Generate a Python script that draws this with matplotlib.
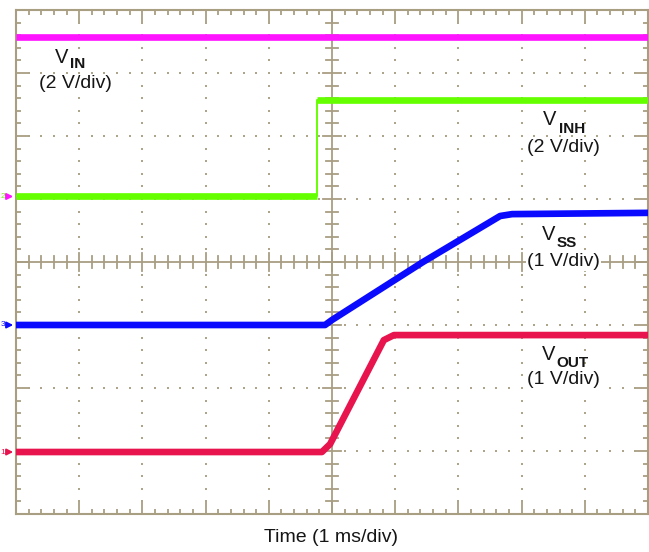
import numpy as np
import matplotlib
matplotlib.use("Agg")
import matplotlib.pyplot as plt

plt.rcParams['font.family'] = ['Liberation Sans', 'DejaVu Sans']

W, H = 649, 552
# ---- data (x in time divisions 0..10, y in screen divisions 0..8) ----
vin_x = [0.0, 10.0]
vin_y = [7.57, 7.57]

vinh_x = [0.0, 4.76, 4.76, 10.0]
vinh_y = [5.04, 5.04, 6.57, 6.57]

vss_x = [0.0, 4.89, 5.0, 6.44, 7.66, 7.85, 10.0]
vss_y = [3.0, 3.0, 3.08, 4.0, 4.73, 4.76, 4.78]

vout_x = [0.0, 4.84, 4.97, 5.82, 5.98, 10.0]
vout_y = [0.984, 0.984, 1.11, 2.76, 2.84, 2.84]

markers_y = [5.04, 3.0, 0.984]
markers_lbl = ['2', '3', '1']

labels = ['IN', 'INH', 'SS', 'OUT']
scales = ['(2 V/div)', '(2 V/div)', '(1 V/div)', '(1 V/div)']
xlabel = 'Time (1 ms/div)'

# ---- styling ----
tan = '#A89E82'
dot = '#ADA48A'
c_vin = '#FF14FF'
c_vinh = '#66FF00'
c_vss = '#0A0AFF'
c_vout = '#E8144E'
txtc = '#151515'

fig = plt.figure(figsize=(W / 100, H / 100), dpi=100)
ax = fig.add_axes([16 / W, 38 / H, 632 / W, 504 / H])
ax.set_xlim(0, 10)
ax.set_ylim(0, 8)

for s in ax.spines.values():
    s.set_color(tan)
    s.set_linewidth(1.5)

ax.set_xticks(np.arange(0, 11, 1))
ax.set_yticks(np.arange(0, 9, 1))
ax.set_xticks(np.arange(0, 10.01, 0.2), minor=True)
ax.set_yticks(np.arange(0, 8.01, 0.2), minor=True)
ax.tick_params(which='both', direction='in', top=True, right=True,
               color=tan, width=1.3, labelbottom=False, labelleft=False)
ax.tick_params(which='major', length=8.5)
ax.tick_params(which='minor', length=3.8)

# dotted graticule
for gx in [1, 2, 3, 4, 6, 7, 8, 9]:
    ys = np.arange(0.2, 7.9, 0.2)
    ax.scatter(np.full_like(ys, gx), ys, s=2.6, marker='s', color=dot, linewidths=0, zorder=1)
for gy in [1, 2, 3, 5, 6, 7]:
    xs = np.arange(0.2, 9.9, 0.2)
    ax.scatter(xs, np.full_like(xs, gy), s=2.6, marker='s', color=dot, linewidths=0, zorder=1)

# center crosshair
ax.axhline(4, color=tan, lw=1.3, zorder=1)
ax.axvline(5, color=tan, lw=1.3, zorder=1)
for k in range(1, 50):
    xv = k * 0.2
    h = (9 if k % 5 == 0 else 6) / 63.0
    ax.plot([xv, xv], [4 - h, 4 + h], color=tan, lw=1.3, zorder=1)
for k in range(1, 40):
    yv = k * 0.2
    h = (9 if k % 5 == 0 else 6) / 63.2
    ax.plot([5 - h, 5 + h], [yv, yv], color=tan, lw=1.3, zorder=1)

# traces
lw = 4.8
ax.plot(vin_x, vin_y, color=c_vin, lw=lw, solid_capstyle='butt', zorder=3)
ax.plot(vinh_x, vinh_y, color=c_vinh, lw=1.4, zorder=3)
ax.plot(vinh_x[:2], vinh_y[:2], color=c_vinh, lw=lw, solid_capstyle='butt', zorder=3)
ax.plot(vinh_x[2:], vinh_y[2:], color=c_vinh, lw=lw, solid_capstyle='butt', zorder=3)
ax.plot(vss_x, vss_y, color=c_vss, lw=lw, solid_capstyle='butt', zorder=3)
ax.plot(vout_x, vout_y, color=c_vout, lw=lw, solid_capstyle='butt', zorder=3)

# channel ground markers at the left
mcols = [c_vin, c_vss, c_vout]
for y, lbl, c in zip(markers_y, markers_lbl, mcols):
    ax.annotate('', xy=(0, y), xycoords='data', xytext=(-7.5, 0), textcoords='offset points',
                arrowprops=dict(arrowstyle='-|>', color=c, lw=1.4, mutation_scale=9),
                annotation_clip=False)
    py = 514 - y * 63
    fig.text(0.5 / W, 1 - py / H, lbl, ha='left', va='center', fontsize=6,
             color=(c_vinh if lbl == '2' else c))


def ptext(px, py, s, **kw):
    return fig.text(px / W, 1 - py / H, s, **kw)


wb = dict(boxstyle='square,pad=0.05', fc='white', ec='none')
# (V left, V baseline, sub left, sub baseline, scale center x, scale center y)
pos = [
    (55, 63, 70, 68, 75, 84),
    (543, 125, 559, 133, 563.5, 147.5),
    (542, 240, 557, 247, 563.5, 261.5),
    (542, 360, 556, 367, 563.5, 380),
]
for (vx, vy, sx, sy, cx, cy), sub, sc in zip(pos, labels, scales):
    ptext(vx, vy, 'V', fontsize=14.5, color=txtc, ha='left', va='baseline', zorder=5)
    ptext(sx, sy, sub, fontsize=11, fontweight='bold', color=txtc, ha='left', va='baseline', zorder=5)
    ptext(cx, cy, sc, fontsize=14, color=txtc, ha='center', va='center', bbox=wb, zorder=5)

ptext(331, 537, xlabel, fontsize=14, color=txtc, ha='center', va='center')

fig.savefig('out.png', dpi=100, facecolor='white')
